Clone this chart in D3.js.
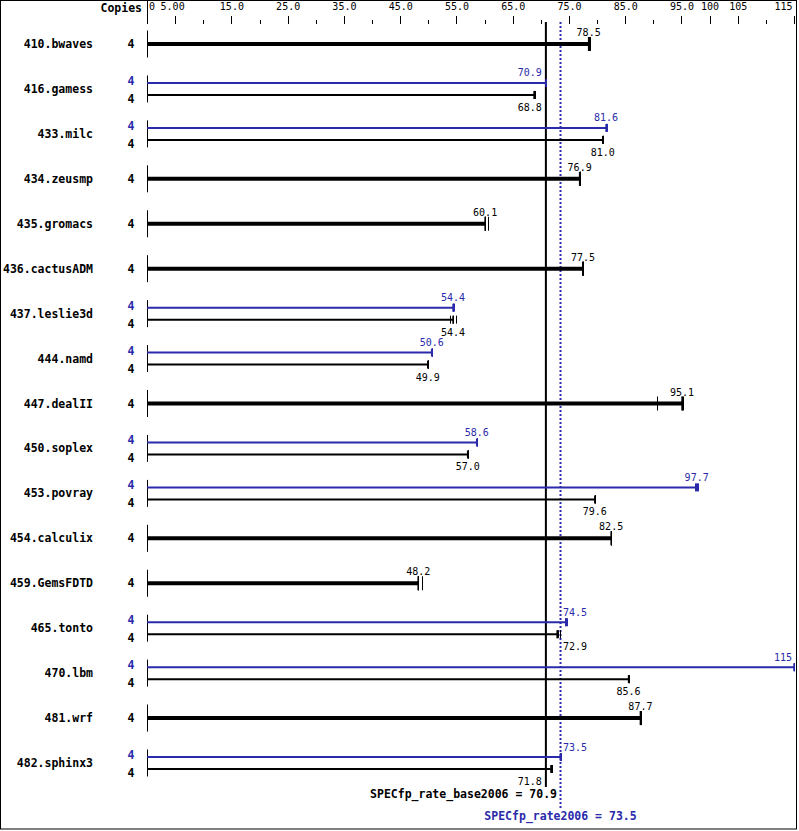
<!DOCTYPE html>
<html>
<head>
<meta charset="utf-8">
<script src="https://cdn.jsdelivr.net/npm/d3@7"></script>
<style>
  html, body { margin: 0; padding: 0; background: #fff; }
  svg { display: block; }
  .num { font-family: "DejaVu Sans Mono", monospace; font-size: 10px; }
  .bold { font-family: "DejaVu Sans Mono", monospace; font-size: 11.5px; font-weight: bold; }
</style>
</head>
<body>
<svg id="chart" width="799" height="831"></svg>
<script>
// ---------- data ----------
const benchmarks = ["410.bwaves","416.gamess","433.milc","434.zeusmp","435.gromacs","436.cactusADM",
  "437.leslie3d","444.namd","447.dealII","450.soplex","453.povray","454.calculix","459.GemsFDTD",
  "465.tonto","470.lbm","481.wrf","482.sphinx3"];
const baseCopies = [4,4,4,4,4,4,4,4,4,4,4,4,4,4,4,4,4];
const peakCopies = [null,4,4,null,null,null,4,4,null,4,4,null,null,4,4,null,4];
const baseRatio = [78.5,68.8,81.0,76.9,60.1,77.5,54.4,49.9,95.1,57.0,79.6,82.5,48.2,72.9,85.6,87.7,71.8];
const peakRatio = [null,70.9,81.6,null,null,null,54.4,50.6,null,58.6,97.7,null,null,74.5,115,null,73.5];
const baseRuns = [[78.4,78.5,78.7],[68.8,68.8,68.9],[81.0,81.0,81.1],[76.9,76.9,77.0],[60.0,60.1,60.6],
  [77.3,77.5,77.5],[53.8,54.4,54.9],[49.9,49.9,49.9],[90.6,95.1,95.2],[57.0,57.0,57.0],[79.6,79.6,79.6],
  [82.5,82.5,82.5],[48.1,48.2,48.9],[72.9,73.1,73.4],[85.6,85.6,85.6],[87.7,87.7,87.8],[71.8,71.8,71.9]];
const peakRuns = [null,[70.9,70.9,70.9],[81.6,81.6,81.7],null,null,null,[54.4,54.4,54.5],[50.6,50.6,50.6],
  null,[58.6,58.6,58.6],[97.4,97.7,98.0],null,null,[74.3,74.5,74.7],[115,115,115],null,[73.5,73.5,73.5]];
const baseMean = 70.9;
const peakMean = 73.5;
const baseMeanLabel = "SPECfp_rate_base2006 = 70.9";
const peakMeanLabel = "SPECfp_rate2006 = 73.5";
const majorTicks = [0,5,15,25,35,45,55,65,75,85,95,100,105,115];
const minorTicks = [10,20,30,40,50,60,70,80,90,110];

// ---------- drawing ----------
const BLUE = "#2a2aaa", BLACK = "#000";
const svg = d3.select("#chart");
const x = d3.scaleLinear().domain([0, 115]).range([147, 794]);
const y = d3.scalePoint().domain(benchmarks).range([44, 763]);
const fmt = v => v >= 100 ? String(Math.round(v)) : v.toFixed(1);

svg.append("rect").attr("x",0.5).attr("y",0.5).attr("width",796).attr("height",828.5)
  .attr("fill","#fff").attr("stroke","#000");

// top axis
const axMajor = d3.axisTop(x).tickValues(majorTicks).tickSize(8).tickPadding(6)
  .tickFormat(v => v === 0 ? "0" : v < 10 ? v.toFixed(2) : v < 100 ? v.toFixed(1) : String(v));
const gA = svg.append("g").attr("transform","translate(0,24)").call(axMajor);
gA.select(".domain").remove();
gA.selectAll("text").attr("class","num").attr("font-family",null).attr("font-size",null).attr("fill","#000");
gA.selectAll(".tick line").attr("stroke","#000").attr("shape-rendering","crispEdges");
gA.selectAll(".tick").filter(d => d === 0).select("text").attr("text-anchor","start").attr("dx",1.5);
gA.selectAll(".tick").filter(d => d === 5).select("text").attr("dx",-3);
gA.selectAll(".tick").filter(d => d === 115).select("text").attr("text-anchor","end").attr("dx",-2);
const axMinor = d3.axisTop(x).tickValues(minorTicks).tickSize(4).tickFormat("");
const gM = svg.append("g").attr("transform","translate(0,24)").call(axMinor);
gM.select(".domain").remove();
gM.selectAll(".tick line").attr("stroke","#000").attr("shape-rendering","crispEdges");

svg.append("line").attr("x1",x(0)+0.5).attr("x2",x(0)+0.5).attr("y1",0).attr("y2",22)
  .attr("stroke","#000").attr("stroke-width",1);
svg.append("text").attr("class","bold").attr("x",142).attr("y",12).attr("text-anchor","end").text("Copies");

// mean lines
const xb = x(baseMean), xp = x(peakMean);
svg.append("line").attr("x1",xb).attr("x2",xb).attr("y1",22).attr("y2",787)
  .attr("stroke",BLACK).attr("stroke-width",2);
svg.append("line").attr("x1",xp).attr("x2",xp).attr("y1",22).attr("y2",808)
  .attr("stroke",BLUE).attr("stroke-width",2).attr("stroke-dasharray","2,2");
svg.append("text").attr("class","bold").attr("x",557).attr("y",798).attr("text-anchor","end")
  .attr("fill",BLACK).text(baseMeanLabel);
svg.append("text").attr("class","bold").attr("x",xp).attr("y",820).attr("text-anchor","middle")
  .attr("fill",BLUE).text(peakMeanLabel);

function placeLabel(sel, v, ty, color) {
  const cx = x(v), s = fmt(v), w = s.length * 6.02;
  let anchor = "middle", tx = cx;
  const l = cx - w/2, r = cx + w/2;
  if (r > xb - 5 && l < xp + 3) {
    if (cx < (xb + xp) / 2) { anchor = "end"; tx = xb - 4; }
    else { anchor = "start"; tx = xp + 2.5; }
  } else if (r > 792) { anchor = "end"; tx = 792; }
  sel.append("text").attr("class","num").attr("x",tx).attr("y",ty).attr("text-anchor",anchor)
    .attr("fill",color).text(s);
}

benchmarks.forEach((name, i) => {
  const cy = y(name);
  const g = svg.append("g");
  g.append("text").attr("class","bold").attr("x",93).attr("y",cy+4).attr("text-anchor","end").text(name);
  g.append("line").attr("x1",x(0)+0.5).attr("x2",x(0)+0.5).attr("y1",cy-13.5).attr("y2",cy+13.5)
    .attr("stroke","#000").attr("stroke-width",1);
  if (peakRatio[i] == null) {
    g.append("text").attr("class","bold").attr("x",131).attr("y",cy+4).attr("text-anchor","middle").text(baseCopies[i]);
    g.append("line").attr("x1",x(0)).attr("x2",x(baseRatio[i])).attr("y1",cy).attr("y2",cy)
      .attr("stroke",BLACK).attr("stroke-width",4);
    baseRuns[i].forEach(r => g.append("line").attr("x1",Math.round(x(r))+0.5).attr("x2",Math.round(x(r))+0.5)
      .attr("y1",cy-7).attr("y2",cy+7).attr("stroke",BLACK).attr("stroke-width",1));
    g.append("line").attr("x1",x(baseRatio[i])).attr("x2",x(baseRatio[i])).attr("y1",cy-7).attr("y2",cy+7)
      .attr("stroke",BLACK).attr("stroke-width",1.5);
    placeLabel(g, baseRatio[i], cy-8, BLACK);
  } else {
    const yp = cy - 6, yb = cy + 6;
    g.append("text").attr("class","bold").attr("x",131).attr("y",yp+2).attr("text-anchor","middle")
      .attr("fill",BLUE).text(peakCopies[i]);
    g.append("text").attr("class","bold").attr("x",131).attr("y",yb+8).attr("text-anchor","middle")
      .attr("fill",BLACK).text(baseCopies[i]);
    g.append("line").attr("x1",x(0)).attr("x2",x(peakRatio[i])).attr("y1",yp).attr("y2",yp)
      .attr("stroke",BLUE).attr("stroke-width",2);
    peakRuns[i].forEach(r => g.append("line").attr("x1",Math.round(x(r))+0.5).attr("x2",Math.round(x(r))+0.5)
      .attr("y1",yp-4).attr("y2",yp+4).attr("stroke",BLUE).attr("stroke-width",1));
    g.append("line").attr("x1",x(peakRatio[i])).attr("x2",x(peakRatio[i])).attr("y1",yp-4).attr("y2",yp+4)
      .attr("stroke",BLUE).attr("stroke-width",1.5);
    g.append("line").attr("x1",x(0)).attr("x2",x(baseRatio[i])).attr("y1",yb).attr("y2",yb)
      .attr("stroke",BLACK).attr("stroke-width",2);
    baseRuns[i].forEach(r => g.append("line").attr("x1",Math.round(x(r))+0.5).attr("x2",Math.round(x(r))+0.5)
      .attr("y1",yb-4).attr("y2",yb+4).attr("stroke",BLACK).attr("stroke-width",1));
    g.append("line").attr("x1",x(baseRatio[i])).attr("x2",x(baseRatio[i])).attr("y1",yb-4).attr("y2",yb+4)
      .attr("stroke",BLACK).attr("stroke-width",1.5);
    placeLabel(g, peakRatio[i], cy-12.5, BLUE);
    placeLabel(g, baseRatio[i], cy+22, BLACK);
  }
});
</script>
</body>
</html>
